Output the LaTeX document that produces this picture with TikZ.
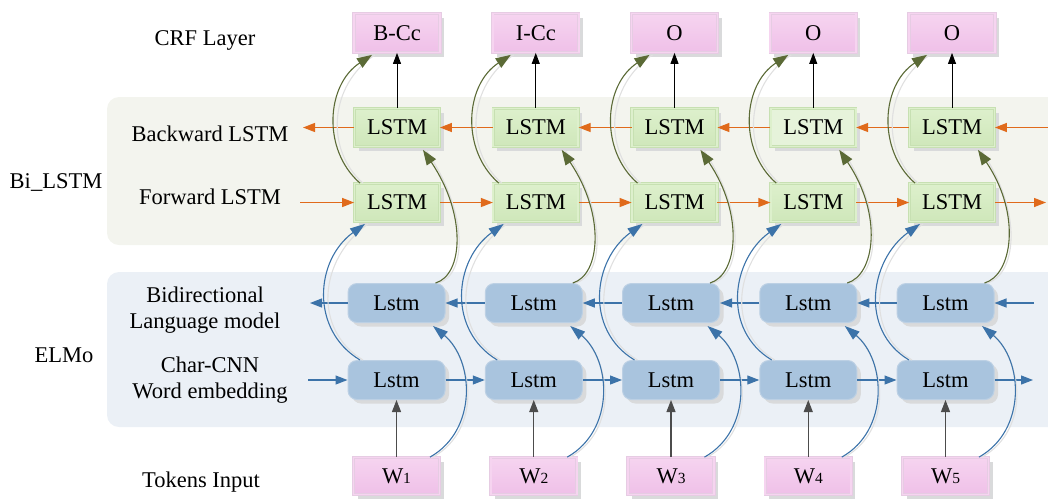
\documentclass[tikz,border=0pt]{standalone}
\usepackage{fontspec}
\setmainfont{Liberation Serif}
\usetikzlibrary{arrows.meta,shadows,calc}
\definecolor{biF}{HTML}{F3F4EE}
\definecolor{elF}{HTML}{EBF0F6}
\definecolor{crfT}{HTML}{F6D4F0}
\definecolor{crfF}{HTML}{EFC0E8}
\definecolor{crfB}{HTML}{E6CCE3}
\definecolor{grT}{HTML}{DDF0CC}
\definecolor{grF}{HTML}{CFE7BA}
\definecolor{grL}{HTML}{E6F3DA}
\definecolor{grB}{HTML}{C7E0B2}
\definecolor{blF}{HTML}{A9C4DE}
\definecolor{blB}{HTML}{BCD0E4}
\definecolor{orC}{HTML}{E06A1B}
\definecolor{buC}{HTML}{3C73A9}
\definecolor{olC}{HTML}{5B6A36}
\definecolor{shC}{HTML}{D9DADB}
\tikzset{
  boxshadow/.style={drop shadow={shadow xshift=4pt,shadow yshift=-4pt,fill=shC,opacity=1}},
  crf/.style={draw=crfB, line width=0.8pt, double=crfT, double distance=1.6pt, top color=crfT, bottom color=crfF, minimum width=86pt, minimum height=39pt, inner sep=0pt, boxshadow},
  tok/.style={crf, minimum height=37pt},
  lstmG/.style={draw=grB, line width=0.8pt, double=grT, double distance=1.6pt, top color=grT, bottom color=grF, minimum width=85pt, minimum height=38pt, inner sep=0pt, boxshadow},
  lstmL/.style={lstmG, top color=grL, bottom color=grL},
  lstmB/.style={draw=blB, line width=1pt, fill=blF, rounded corners=9pt, minimum width=97pt, minimum height=39pt, inner sep=0pt, boxshadow},
  lbl/.style={align=center, inner sep=0pt},
  oarr/.style={draw=orC, line width=1.3pt, -{Triangle[length=12pt,width=9pt]}},
  barr/.style={draw=buC, line width=1.2pt, -{Triangle[length=12pt,width=9pt]}},
  karr/.style={draw=black, line width=1pt, -{Triangle[length=11pt,width=8pt]}},
  garr/.style={draw=black!70, line width=1.1pt, -{Triangle[length=12pt,width=9pt]}},
  crvB/.style={draw=buC, line width=1.1pt, -{Triangle[length=15pt,width=10pt]}},
  crvO/.style={draw=olC, line width=1.1pt, -{Triangle[length=15pt,width=11pt]}},
  shd/.style={draw=black!12, line width=1.1pt, transform canvas={xshift=3pt}},
}
\begin{document}
\begin{tikzpicture}[x=1pt,y=-1pt,font=\fontsize{22.5}{26}\selectfont]
\useasboundingbox (0,0) rectangle (1048,499);
\fill[biF, rounded corners=12pt] (107,97) rectangle (1075,245);
\fill[elF, rounded corners=12pt] (107,272) rectangle (1075,427);

% labels
\node[lbl] (tcrf) at (205,40) {CRF Layer};
\node[lbl] (tbw) at (210,134) {Backward LSTM};
\node[lbl] (tfw) at (210,197) {Forward LSTM};
\node[lbl] (tbi) at (56,182) {Bi\_LSTM};
\node[lbl] (tbl) at (205,310) {Bidirectional\\Language model};
\node[lbl] (telmo) at (64,355) {ELMo};
\node[lbl] (tcc) at (210,380) {Char-CNN\\Word embedding};
\node[lbl] (ttok) at (201,482) {Tokens Input};

% top columns
\foreach \i/\t/\f in {1/B-Cc/lstmG,2/I-Cc/lstmG,3/O/lstmG,4/O/lstmL,5/O/lstmG}{
  \pgfmathsetmacro\xt{397+138.75*(\i-1)}
  \node[crf] (c\i) at (\xt,33) {\t};
  \node[\f] (lb\i) at (\xt,127.5) {LSTM};
  \node[lstmG] (lf\i) at (\xt,202.5) {LSTM};
}
% bottom columns
\foreach \i in {1,...,5}{
  \pgfmathsetmacro\xb{396.5+137.25*(\i-1)}
  \node[lstmB] (lu\i) at (\xb,303) {Lstm};
  \node[lstmB] (ll\i) at (\xb,380) {Lstm};
  \node[tok] (w\i) at (\xb,476) {W{\fontsize{15.5}{15.5}\selectfont\i}};
}

% free ends
\coordinate (ob0) at (303,127.5);
\coordinate (ob6) at (1065,127.5);
\coordinate (of0) at (300,202.5);
\coordinate (of6) at (1046,202.5);
\coordinate (bu0) at (310,303);
\coordinate (bu6) at (1034,303);
\coordinate (bl0) at (308,380);
\coordinate (bl6) at (1033,380);

% vertical arrows
\foreach \i in {1,...,5}{
  \draw[karr] (lb\i) -- (c\i);
  \draw[garr] (w\i) -- (ll\i);
}
% horizontal chains
\foreach \i [evaluate=\i as \j using int(\i+1)] in {1,...,4}{
  \draw[oarr] (lb\j) -- (lb\i);
  \draw[oarr] (lf\i) -- (lf\j);
  \draw[barr] (lu\j) -- (lu\i);
  \draw[barr] (ll\i) -- (ll\j);
}
\draw[oarr] (lb1) -- (ob0);
\draw[oarr] (ob6) -- (lb5);
\draw[oarr] (of0) -- (lf1);
\draw[oarr] (lf5) -- (of6);
\draw[barr] (lu1) -- (bu0);
\draw[barr] (bu6) -- (lu5);
\draw[barr] (bl0) -- (ll1);
\draw[barr] (ll5) -- (bl6);

% curves
\foreach \i in {1,...,5}{
  \pgfmathsetmacro\xb{396.5+137.25*(\i-1)}
  \pgfmathsetmacro\xt{397+138.75*(\i-1)}
  \foreach \sb/\so in {shd/shd,crvB/crvO}{
    \draw[\sb] ($(w\i.north)+(33.5,0)$) .. controls (\xb+81.5,430) and (\xb+77.5,360) .. ($(lu\i.south)+(36.5,3)$);
    \draw[\sb] ($(ll\i.north)+(-36.5,0)$) .. controls (\xb-86.5,330) and (\xt-82,260) .. ($(lf\i.south)+(-32,2)$);
    \draw[\so] ($(lu\i.north)+(39,0)$) .. controls (\xb+66.5,275) and (\xt+70,215) .. ($(lb\i.south)+(26,3)$);
    \draw[\so] ($(lf\i.north)+(-37,0)$) .. controls (\xt-75,150) and (\xt-71,85) .. ($(c\i.south)+(-25,2)$);
  }
}
\end{tikzpicture}
\end{document}
